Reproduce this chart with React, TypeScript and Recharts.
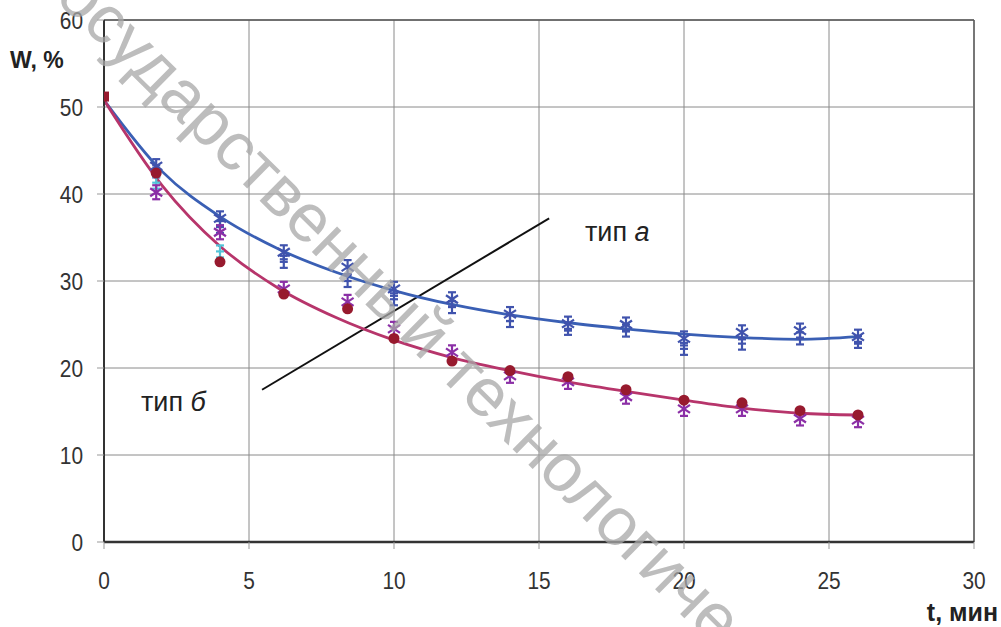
import React from "react";
import {
  ComposedChart,
  Line,
  Scatter,
  XAxis,
  YAxis,
  CartesianGrid,
  ReferenceLine
} from "recharts";

const xTicks = [0, 5, 10, 15, 20, 25, 30];
const yTicks = [0, 10, 20, 30, 40, 50, 60];

// smoothed trend curves
const fitT = [0, 2, 4, 6, 8, 10, 12, 14, 16, 18, 20, 22, 24, 26];
const fitA = [50.8, 42.6, 37.4, 33.7, 31.0, 28.9, 27.3, 26.1, 25.2, 24.5, 23.9, 23.5, 23.3, 23.6];
const fitB = [50.8, 41.0, 34.0, 29.2, 25.8, 23.2, 21.2, 19.7, 18.4, 17.3, 16.3, 15.4, 14.8, 14.6];

// measured points
const measT = [1.8, 4, 6.2, 8.4, 10, 12, 14, 16, 18, 20, 22, 24, 26];
const aStar = [43.2, 37.2, 33.3, 31.6, 29.1, 27.9, 26.2, 25.1, 25.0, 23.4, 24.1, 24.3, 23.6];
const aBar = [42.6, 36.2, 32.2, 30.0, 27.9, 27.0, 25.4, 24.5, 24.3, 22.2, 22.8, 23.4, 23.0];
const bDot = [42.4, 32.2, 28.5, 26.8, 23.4, 20.8, 19.7, 19.0, 17.5, 16.3, 16.0, 15.1, 14.6];
const bStar = [40.2, 35.6, 29.1, 27.6, 24.5, 21.8, 19.1, 18.4, 16.7, 15.3, 15.3, 14.2, 14.0];
const cyanT = [1.8, 4];
const cyanW = [41.3, 33.4];
const startT = [0];
const startW = [51.2];

// leader line from "тип б" to "тип а"
const leaderT = [5.45, 15.35];
const leaderW = [17.5, 37.2];

const rows = (t: number[], w: number[]) => t.map((x, i) => ({ t: x, w: w[i] }));

const FONT = "'Liberation Sans', Arial, sans-serif";
const BLUE_LINE = "#3a5fb4";
const RED_LINE = "#b7356b";
const BLUE_MARK = "#4053ad";
const RED_DOT = "#971a2e";
const PURPLE = "#8b2fa6";
const CYAN = "#52c4d8";

const Star = ({ cx, cy, color }: any) => (
  <g stroke={color} strokeWidth={2.2} fill="none">
    <line x1={cx} y1={cy - 7} x2={cx} y2={cy + 7} />
    <line x1={cx - 6} y1={cy - 4} x2={cx + 6} y2={cy + 4} />
    <line x1={cx - 6} y1={cy + 4} x2={cx + 6} y2={cy - 4} />
    <line x1={cx - 4} y1={cy - 7} x2={cx + 4} y2={cy - 7} />
    <line x1={cx - 4} y1={cy + 7} x2={cx + 4} y2={cy + 7} />
  </g>
);

const Bar = ({ cx, cy, color }: any) => (
  <g stroke={color} strokeWidth={2.2} fill="none">
    <line x1={cx} y1={cy - 6} x2={cx} y2={cy + 6} />
    <line x1={cx - 4} y1={cy - 6} x2={cx + 4} y2={cy - 6} />
    <line x1={cx - 4} y1={cy + 6} x2={cx + 4} y2={cy + 6} />
    <line x1={cx - 4} y1={cy} x2={cx + 4} y2={cy} />
  </g>
);

const XTick = ({ x, y, payload }: any) => (
  <g transform={`translate(${x},${y + 40}) scale(0.87,1)`}>
    <text x={0} y={0} textAnchor="middle" fontFamily={FONT} fontSize={24} fill="#333">
      {payload.value}
    </text>
  </g>
);

const YTick = ({ x, y, payload }: any) => (
  <g transform={`translate(${x},${y + 8.5}) scale(0.87,1)`}>
    <text x={0} y={0} textAnchor="end" fontFamily={FONT} fontSize={24} fill="#333">
      {payload.value}
    </text>
  </g>
);

export default function App() {
  return (
    <div style={{ position: "absolute", left: 0, top: 0, width: 1001, height: 627, background: "#fff" }}>
      <ComposedChart
        width={1001}
        height={627}
        margin={{ top: 20, right: 27, bottom: 55, left: 0 }}
      >
        <CartesianGrid stroke="#8a8a8a" strokeWidth={1} />
        <XAxis
          type="number"
          dataKey="t"
          domain={[0, 30]}
          ticks={xTicks}
          height={30}
          stroke="#333"
          strokeWidth={2.5}
          tickLine={{ stroke: "#999", strokeWidth: 1 }}
          tickSize={7}
          tickMargin={0}
          tick={<XTick />}
          allowDataOverflow
        />
        <YAxis
          type="number"
          dataKey="w"
          domain={[0, 60]}
          ticks={yTicks}
          width={104}
          stroke="#333"
          strokeWidth={2}
          tickLine={{ stroke: "#999", strokeWidth: 1 }}
          tickSize={7}
          tickMargin={14}
          tick={<YTick />}
          allowDataOverflow
        />
        <ReferenceLine x={30} stroke="#777" strokeWidth={2} />
        <ReferenceLine y={60} stroke="#555" strokeWidth={1.5} />
        <ReferenceLine
          segment={[
            { x: leaderT[0], y: leaderW[0] },
            { x: leaderT[1], y: leaderW[1] }
          ]}
          stroke="#111"
          strokeWidth={2}
        />
        <Line
          data={rows(fitT, fitA)}
          dataKey="w"
          type="monotone"
          stroke={BLUE_LINE}
          strokeWidth={2.8}
          dot={false}
          isAnimationActive={false}
        />
        <Line
          data={rows(fitT, fitB)}
          dataKey="w"
          type="monotone"
          stroke={RED_LINE}
          strokeWidth={2.8}
          dot={false}
          isAnimationActive={false}
        />
        <Scatter
          data={rows(measT, aBar)}
          dataKey="w"
          isAnimationActive={false}
          shape={(p: any) => <Bar cx={p.cx} cy={p.cy} color={BLUE_MARK} />}
        />
        <Scatter
          data={rows(measT, aStar)}
          dataKey="w"
          isAnimationActive={false}
          shape={(p: any) => <Star cx={p.cx} cy={p.cy} color={BLUE_MARK} />}
        />
        <Scatter
          data={rows(cyanT, cyanW)}
          dataKey="w"
          isAnimationActive={false}
          shape={(p: any) => <Bar cx={p.cx} cy={p.cy} color={CYAN} />}
        />
        <Scatter
          data={rows(measT, bStar)}
          dataKey="w"
          isAnimationActive={false}
          shape={(p: any) => <Star cx={p.cx} cy={p.cy} color={PURPLE} />}
        />
        <Scatter
          data={rows(measT, bDot)}
          dataKey="w"
          isAnimationActive={false}
          shape={(p: any) => <circle cx={p.cx} cy={p.cy} r={5.5} fill={RED_DOT} />}
        />
        <Scatter
          data={rows(startT, startW)}
          dataKey="w"
          isAnimationActive={false}
          shape={(p: any) => <rect x={p.cx - 5} y={p.cy - 5} width={10} height={10} fill={RED_DOT} />}
        />
      </ComposedChart>
      <svg
        width={1001}
        height={627}
        style={{ position: "absolute", left: 0, top: 0, pointerEvents: "none" }}
      >
        <text
          x={37}
          y={-18}
          transform="rotate(44.5 37 -18)"
          fontFamily={FONT}
          fontSize={68}
          fill="#a8a8a8"
          opacity={0.75}
        >
          государственный технологический
        </text>
        <text x={10} y={68} fontFamily={FONT} fontSize={23} fontWeight="bold" fill="#222">
          W, %
        </text>
        <text x={998} y={621} textAnchor="end" fontFamily={FONT} fontSize={25} fontWeight="bold" fill="#222">
          t, мин
        </text>
        <text x={585} y={241} fontFamily={FONT} fontSize={27} fill="#222">
          тип <tspan fontStyle="italic">а</tspan>
        </text>
        <text x={141} y={411} fontFamily={FONT} fontSize={27} fill="#222">
          тип <tspan fontStyle="italic">б</tspan>
        </text>
      </svg>
    </div>
  );
}
